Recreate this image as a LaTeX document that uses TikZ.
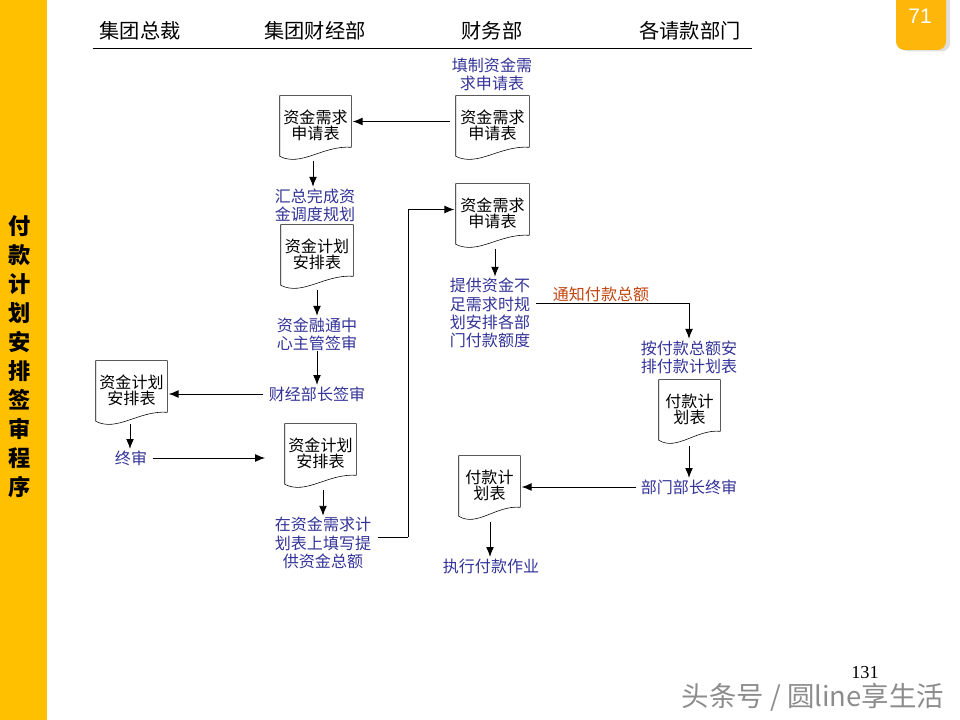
\documentclass[tikz,border=0pt]{standalone}
\usepackage{fontspec}
\setmainfont{Noto Sans CJK SC}
\newfontfamily\numfont{Liberation Serif}
\newfontfamily\tabfont{Liberation Sans}
\usetikzlibrary{arrows.meta,calc,shadows}
\definecolor{sidegold}{HTML}{FFC000}
\definecolor{tabgold}{HTML}{FFB60A}
\definecolor{steptext}{HTML}{333399}
\definecolor{noticetext}{HTML}{C0440F}
\newcommand{\doctop}{\rule{0pt}{15pt}}
\tikzset{
  headlabel/.style={inner sep=0pt,font=\fontsize{14.4}{16}\selectfont},
  sidelabel/.style={inner sep=0pt,font=\fontsize{15.8}{17}\selectfont\bfseries},
  steplabel/.style={inner sep=0pt,align=center,text=steptext,font=\fontsize{11.4}{12.9}\selectfont},
  flow/.style={->,>={Latex[length=7pt,width=5.5pt]},line width=0.6pt,shorten >=1pt},
  docbox/.style={inner sep=0pt,minimum height=51*0.025cm,minimum width=#1*0.025cm,align=center,
    font=\fontsize{11.4}{10.4}\selectfont,
    append after command={
      (\tikzlastnode.south east) -- (\tikzlastnode.north east) -- (\tikzlastnode.north west)
      -- ($(\tikzlastnode.south west)+(0,9)$)
      .. controls ($(\tikzlastnode.south west)!0.3!(\tikzlastnode.south east)+(0,20)$)
      and ($(\tikzlastnode.south west)!0.6!(\tikzlastnode.south east)+(0,-2)$)
      .. (\tikzlastnode.south east)}},
  docbox/.default=72
}
\begin{document}
\begin{tikzpicture}[x=0.025cm,y=-0.025cm]
\useasboundingbox (0,0) rectangle (960,720);
% side bar and page tab
\fill[sidegold] (0,0) rectangle (47,720);
\foreach \ch [count=\i from 0] in {付,款,计,划,安,排,签,审,程,序}
  \node[sidelabel] (side\i) at (20,226+29*\i) {\ch};
\fill[tabgold,rounded corners=6pt,drop shadow={opacity=0.25,shadow xshift=3pt,shadow yshift=-1pt}] (896,-12) rectangle (946,50);
\node[inner sep=0pt,text=white,font=\tabfont\fontsize{15}{16}\selectfont] (tabno) at (920,16) {71};
% header
\node[headlabel] (headceo) at (140,31) {集团总裁};
\node[headlabel] (headfin) at (315,31) {集团财经部};
\node[headlabel] (headacc) at (492,31) {财务部};
\node[headlabel] (headreq) at (690,31) {各请款部门};
\draw[line width=0.7pt] (93,48) -- (752,48);
% documents
\draw (315.5,121.5) node[docbox=71] (docneedb) {\doctop 资金需求\\申请表};
\draw (492.5,121.5) node[docbox=73] (docneeda) {\doctop 资金需求\\申请表};
\draw (492.5,209.5) node[docbox=73] (docneedc) {\doctop 资金需求\\申请表};
\draw (317,250.5) node[docbox=72] (docplana) {\doctop 资金计划\\安排表};
\draw (131.5,386.5) node[docbox=71] (docplanb) {\doctop 资金计划\\安排表};
\draw (320.5,449.5) node[docbox=71] (docplanc) {\doctop 资金计划\\安排表};
\draw (689.5,405.5) node[docbox=61] (docpaya) {\doctop 付款计\\划表};
\draw (489.5,481.5) node[docbox=61] (docpayb) {\doctop 付款计\\划表};
% steps
\node[steplabel] (stepfill) at (492,74) {填制资金需\\求申请表};
\node[steplabel] (stepsum) at (315,205) {汇总完成资\\金调度规划};
\node[steplabel] (stepcenter) at (317,334) {资金融通中\\心主管签审};
\node[steplabel] (stepchief) at (317,394) {财经部长签审};
\node[steplabel] (stepfinal) at (131,458) {终审};
\node[steplabel] (stepamount) at (323,543) {在资金需求计\\划表上填写提\\供资金总额};
\node[steplabel] (stepsupply) at (490,313) {提供资金不\\足需求时规\\划安排各部\\门付款额度};
\node[steplabel,text=noticetext] (stepnotice) at (601,294) {通知付款总额};
\node[steplabel] (stepsched) at (689,357) {按付款总额安\\排付款计划表};
\node[steplabel] (stepdept) at (689,487) {部门部长终审};
\node[steplabel] (steprun) at (491,566) {执行付款作业};
% connectors
\coordinate (needbout) at (313,161);
\coordinate (planaout) at (317,290);
\coordinate (planbout) at (130,424);
\coordinate (plancout) at (323,490);
\coordinate (needcout) at (495,249);
\coordinate (payaout) at (689,446);
\coordinate (paybout) at (490,522);
\coordinate (supplyout) at (536,303);
\coordinate (amountout) at (378,537);
\coordinate (amountup) at (408,537);
\draw[flow,shorten <=4pt] (docneeda.west) -- (docneedb.east);
\draw[flow] (needbout) -- (needbout |- stepsum.north);
\draw[flow] (planaout) -- (planaout |- stepcenter.north);
\draw[flow] (stepcenter.south) -- (stepchief.north);
\draw[flow,shorten <=4pt] (stepchief.west) -- (stepchief.west -| docplanb.east);
\draw[flow] (planbout) -- (planbout |- stepfinal.north);
\draw[flow,shorten <=4pt,shorten >=14pt] (stepfinal.east) -- (stepfinal.east -| docplanc.west);
\draw[flow] (plancout) -- (stepamount.north);
\draw[line width=0.6pt] (amountout) -- (amountup);
\draw[flow] (amountup) |- (docneedc.west);
\draw[flow] (needcout) -- (needcout |- stepsupply.north);
\draw[flow] (supplyout) -| (stepsched.north);
\draw[flow] (payaout) -- (payaout |- stepdept.north);
\draw[flow,shorten <=3pt] (stepdept.west) -- (stepdept.west -| docpayb.east);
\draw[flow] (paybout) -- (paybout |- steprun.north);
% footer
\node[inner sep=0pt,font=\numfont\fontsize{13}{14}\selectfont] (pageno) at (865,673) {131};
\node[inner sep=0pt,text=black!45,font=\fontsize{19.5}{20}\selectfont] (mark) at (813,697) {头条号 / 圆line享生活};
\end{tikzpicture}
\end{document}
